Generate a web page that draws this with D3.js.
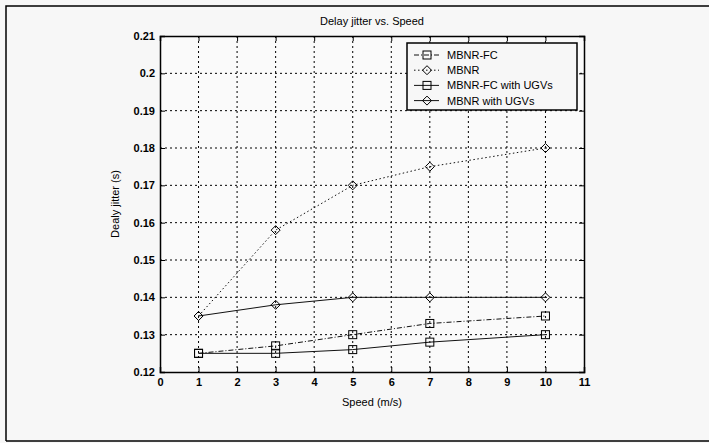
<!DOCTYPE html>
<html><head><meta charset="utf-8">
<script src="https://cdn.jsdelivr.net/npm/d3@7"></script>
<style>body{margin:0;background:#f7f7f7;}svg{display:block;}text{font-family:"Liberation Sans",Arial,sans-serif;fill:#000;}</style>
</head><body>
<svg id="c" width="709" height="443"></svg>
<script>
const speeds = [1, 3, 5, 7, 10];
const seriesNames = ["MBNR-FC", "MBNR", "MBNR-FC with UGVs", "MBNR with UGVs"];
const mbnrFc = [0.125, 0.127, 0.130, 0.133, 0.135];
const mbnr = [0.135, 0.158, 0.170, 0.175, 0.180];
const mbnrFcUgv = [0.125, 0.125, 0.126, 0.128, 0.130];
const mbnrUgv = [0.135, 0.138, 0.140, 0.140, 0.140];
const xTicks = [0,1,2,3,4,5,6,7,8,9,10,11];
const yTicks = [0.12,0.13,0.14,0.15,0.16,0.17,0.18,0.19,0.2,0.21];
const markers = ["square","diamond","square","diamond"];
const dashes = ["5,2,1,2", "1.5,2.5", null, null];

const svg = d3.select("#c");
const L=160, R=584, T=36, B=372;
const x = d3.scaleLinear().domain([0,11]).range([L,R]);
const y = d3.scaleLinear().domain([0.12,0.21]).range([B,T]);

// outer frame
svg.append("path").attr("d","M6,441 L6,6 L709,6").attr("fill","none").attr("stroke","#000").attr("stroke-width",1.5);
svg.append("line").attr("x1",6).attr("x2",709).attr("y1",441).attr("y2",441).attr("stroke","#000").attr("stroke-width",1.5);

// plot background
svg.append("rect").attr("x",L).attr("y",T).attr("width",R-L).attr("height",B-T).attr("fill","#fafafa");

// grid
const g = svg.append("g");
g.selectAll(".gx").data(xTicks.slice(1,-1)).join("line")
  .attr("x1",d=>x(d)).attr("x2",d=>x(d)).attr("y1",T).attr("y2",B)
  .attr("stroke","#000").attr("stroke-width",1).attr("stroke-dasharray","2,3");
g.selectAll(".gy").data(yTicks.slice(1,-1)).join("line")
  .attr("x1",L).attr("x2",R).attr("y1",d=>y(d)).attr("y2",d=>y(d))
  .attr("stroke","#000").attr("stroke-width",1).attr("stroke-dasharray","2,3");

// axes
const xa = svg.append("g").attr("transform",`translate(0,${B})`)
  .call(d3.axisBottom(x).tickValues(xTicks).tickSize(-5).tickPadding(6).tickFormat(d3.format("d")));
const xt = svg.append("g").attr("transform",`translate(0,${T})`)
  .call(d3.axisTop(x).tickValues(xTicks).tickSize(-5).tickFormat(""));
const ya = svg.append("g").attr("transform",`translate(${L},0)`)
  .call(d3.axisLeft(y).tickValues(yTicks).tickSize(-5).tickPadding(5).tickFormat(d=>String(+d.toFixed(2))));
const yr = svg.append("g").attr("transform",`translate(${R},0)`)
  .call(d3.axisRight(y).tickValues(yTicks).tickSize(-5).tickFormat(""));
[xa,xt,ya,yr].forEach(a=>{
  a.selectAll("path").attr("stroke","#000").attr("stroke-width",1.5);
  a.selectAll("line").attr("stroke","#000");
  a.selectAll("text").attr("font-size",11).attr("font-weight","bold").attr("fill","#000");
});

// series
const data = [mbnrFc, mbnr, mbnrFcUgv, mbnrUgv];
const line = d3.line().x((d,i)=>x(speeds[i])).y(d=>y(d));
function marker(sel, type, cx, cy){
  if(type==="square"){
    sel.append("rect").attr("x",cx-4).attr("y",cy-4).attr("width",8).attr("height",8)
      .attr("fill","none").attr("stroke","#000").attr("stroke-width",1);
  } else {
    sel.append("path").attr("d",`M${cx},${cy-4.5}L${cx+4.5},${cy}L${cx},${cy+4.5}L${cx-4.5},${cy}Z`)
      .attr("fill","none").attr("stroke","#000").attr("stroke-width",1);
  }
}
data.forEach((s,k)=>{
  const p = svg.append("path").attr("d",line(s)).attr("fill","none").attr("stroke","#111").attr("stroke-width",1);
  if(dashes[k]) p.attr("stroke-dasharray",dashes[k]);
  const mg = svg.append("g");
  s.forEach((v,i)=>marker(mg, markers[k], x(speeds[i]), y(v)));
});

// legend
const lx=407, ly=43, lw=170, lh=67;
svg.append("rect").attr("x",lx).attr("y",ly).attr("width",lw).attr("height",lh)
  .attr("fill","#f7f7f7").attr("stroke","#000").attr("stroke-width",1.5);
seriesNames.forEach((n,k)=>{
  const yy = ly+12+k*15.2;
  const l = svg.append("line").attr("x1",lx+7).attr("x2",lx+32).attr("y1",yy).attr("y2",yy)
    .attr("stroke","#111").attr("stroke-width",1);
  if(dashes[k]) l.attr("stroke-dasharray",dashes[k]);
  marker(svg, markers[k], lx+20, yy);
  svg.append("text").attr("x",lx+40).attr("y",yy+4).attr("font-size",11).text(n);
});

// labels
svg.append("text").attr("x",372).attr("y",25).attr("text-anchor","middle").attr("font-size",11).text("Delay jitter vs. Speed");
svg.append("text").attr("x",372).attr("y",406).attr("text-anchor","middle").attr("font-size",11).text("Speed (m/s)");
svg.append("text").attr("transform",`translate(119,${(T+B)/2}) rotate(-90)`).attr("text-anchor","middle").attr("font-size",11).text("Dealy jitter (s)");
</script>
</body></html>
